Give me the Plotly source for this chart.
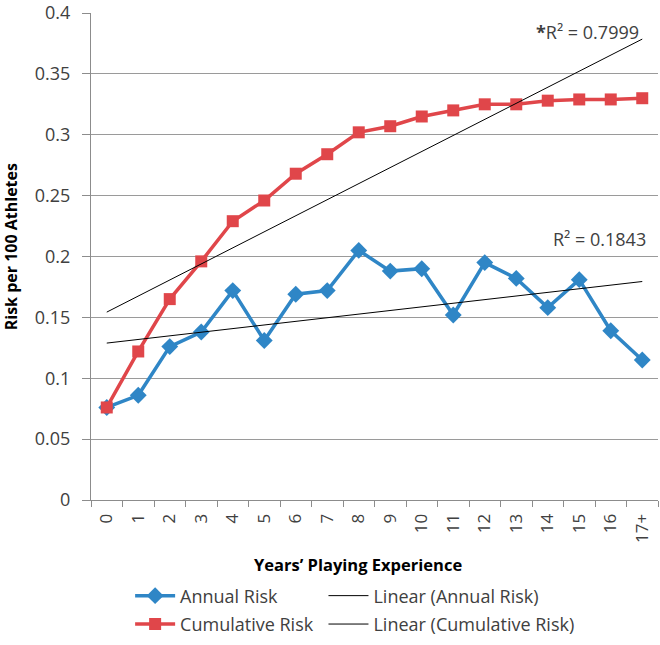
import numpy as np
import plotly.graph_objects as go

categories = ["0", "1", "2", "3", "4", "5", "6", "7", "8", "9", "10", "11", "12", "13", "14", "15", "16", "17+"]
annual_risk = [0.076, 0.086, 0.126, 0.138, 0.172, 0.131, 0.169, 0.172, 0.205, 0.188, 0.190, 0.152,
               0.195, 0.182, 0.158, 0.181, 0.139, 0.115]
cumulative_risk = [0.076, 0.122, 0.165, 0.196, 0.229, 0.246, 0.268, 0.284, 0.302, 0.307, 0.315, 0.320,
                   0.325, 0.325, 0.328, 0.329, 0.329, 0.330]
y_ticks = [0, 0.05, 0.1, 0.15, 0.2, 0.25, 0.3, 0.35, 0.4]
y_tick_labels = ["0", "0.05", "0.1", "0.15", "0.2", "0.25", "0.3", "0.35", "0.4"]
r2_labels = ["<b>*</b>R² = 0.7999", "R² = 0.1843"]

idx = np.arange(len(categories))
fit_a = np.polyval(np.polyfit(idx, annual_risk, 1), idx)
fit_c = np.polyval(np.polyfit(idx, cumulative_risk, 1), idx)

FONT = "Open Sans"
TXT = "#404040"
BLUE = "#2f86c6"
RED = "#e0464a"

fig = go.Figure()
fig.add_trace(go.Scatter(x=categories, y=annual_risk, mode="lines+markers", name="Annual Risk",
                         line=dict(color=BLUE, width=3.5),
                         marker=dict(symbol="diamond", size=13, color=BLUE),
                         legend="legend", legendrank=1, legendgroup="a"))
fig.add_trace(go.Scatter(x=categories, y=cumulative_risk, mode="lines+markers", name="Cumulative Risk",
                         line=dict(color=RED, width=3.5),
                         marker=dict(symbol="square", size=12, color=RED),
                         legend="legend", legendrank=2, legendgroup="b"))
fig.add_trace(go.Scatter(x=categories, y=fit_a, mode="lines", name="Linear (Annual Risk)",
                         line=dict(color="black", width=1), legend="legend2", legendrank=1,
                         legendgroup="c"))
fig.add_trace(go.Scatter(x=categories, y=fit_c, mode="lines", name="Linear (Cumulative Risk)",
                         line=dict(color="black", width=1), legend="legend2", legendrank=2,
                         legendgroup="d"))

fig.add_annotation(x=0.970, y=0.3845, xref="paper", yref="y", text=r2_labels[0], showarrow=False,
                   xanchor="right", yanchor="middle", font=dict(family=FONT, size=18, color=TXT))
fig.add_annotation(x=0.982, y=0.2143, xref="paper", yref="y", text=r2_labels[1], showarrow=False,
                   xanchor="right", yanchor="middle", font=dict(family=FONT, size=18, color=TXT))
fig.add_annotation(x=0.471, y=-0.133, xref="paper", yref="paper", text="<b>Years’ Playing Experience</b>",
                   showarrow=False, xanchor="center", yanchor="middle",
                   font=dict(family=FONT, size=16.5, color="black"))
fig.add_annotation(x=-0.141, y=0.519, xref="paper", yref="paper", text="<b>Risk per 100 Athletes</b>",
                   showarrow=False, xanchor="center", yanchor="middle", textangle=-90,
                   font=dict(family=FONT, size=16, color="black"))

legend_common = dict(orientation="v", yanchor="top", xanchor="left", bgcolor="rgba(0,0,0,0)",
                     font=dict(family=FONT, size=18, color=TXT), tracegroupgap=2, itemwidth=40)

fig.update_layout(
    width=660, height=645,
    margin=dict(l=91, r=2, t=13, b=145, autoexpand=False),
    paper_bgcolor="white", plot_bgcolor="white",
    font=dict(family=FONT, size=18, color=TXT),
    legend=dict(x=0.069, y=-0.159, **legend_common),
    legend2=dict(x=0.41, y=-0.159, **legend_common),
    xaxis=dict(type="category", range=[-0.5, len(categories) - 0.5], showgrid=False, showline=True,
               linecolor="#8c8c8c", linewidth=1,
               ticks="outside", tickson="boundaries", ticklen=6, tickcolor="#8c8c8c",
               tickangle=-90, tickfont=dict(family=FONT, size=17, color=TXT), zeroline=False,
               automargin=False, ticklabelstandoff=6),
    yaxis=dict(range=[0, 0.4], tickvals=y_ticks, ticktext=y_tick_labels, showgrid=True,
               gridcolor="#9a9a9a", gridwidth=1, showline=True, linecolor="#8c8c8c", linewidth=1,
               ticks="outside", ticklen=8, tickcolor="#8c8c8c", zeroline=False, automargin=False,
               ticklabelstandoff=8, ticklabeloverflow="allow",
               tickfont=dict(family=FONT, size=18, color=TXT)),
)

fig.write_html("out.html", config={"displayModeBar": False},
               post_script="document.body.style.margin='0';")
